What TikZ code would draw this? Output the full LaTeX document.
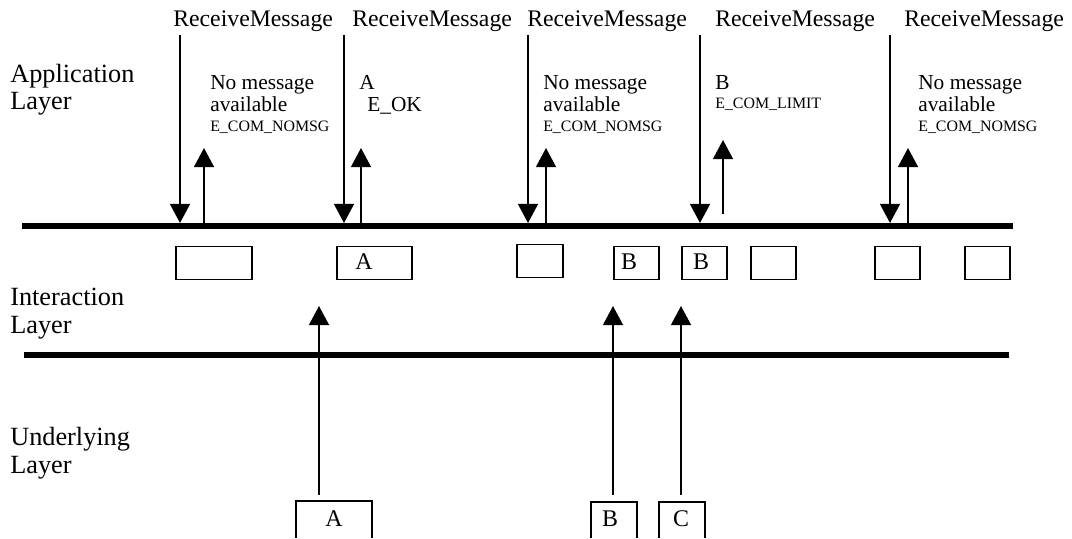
\documentclass[tikz,border=0pt]{standalone}
\usepackage{fontspec}
\setmainfont{Liberation Serif}
\usetikzlibrary{arrows.meta}

\begin{document}
\begin{tikzpicture}[
  bus/.style={line width=4.3pt},
  call/.style={line width=1.4pt, -{Triangle[length=0.48cm, width=0.5cm]}},
  ret/.style={call},
  slot/.style={draw, line width=1.4pt, minimum height=0.825cm, inner sep=0pt},
  frame/.style={line width=1.4pt},
  layer/.style={font=\fontsize{18.7}{19.9}\selectfont, align=left, anchor=base west, inner sep=0pt},
  rm/.style={font=\fontsize{16.9}{18}\selectfont, anchor=base west, inner sep=0pt},
  note/.style={font=\fontsize{15.2}{15.65}\selectfont, align=left, anchor=base west, inner sep=0pt},
  code/.style={font=\fontsize{11.3}{12}\selectfont, anchor=base west, inner sep=0pt},
  letter/.style={font=\fontsize{17}{18}\selectfont, inner sep=0pt},
]
  \useasboundingbox (0,0) rectangle (26.8,13.45);

  % layer names
  \node[layer] (app) at (0.25,10.7) {Application\\Layer};
  \node[layer] (inter) at (0.25,5.125) {Interaction\\Layer};
  \node[layer] (under) at (0.25,1.625) {Underlying\\Layer};

  % layer borders
  \coordinate (appL) at (0.55,7.8);
  \coordinate (appR) at (25.325,7.8);
  \coordinate (intL) at (0.6,4.575);
  \coordinate (intR) at (25.225,4.575);
  \draw[bus] (appL) -- (appR);
  \draw[bus] (intL) -- (intR);
  \coordinate (appT) at (0,7.875);

  % ReceiveMessage calls
  \node[rm] (rm1) at (4.325,12.775) {ReceiveMessage};
  \node[rm] (rm2) at (8.8,12.775) {ReceiveMessage};
  \node[rm] (rm3) at (13.175,12.775) {ReceiveMessage};
  \node[rm] (rm4) at (17.875,12.775) {ReceiveMessage};
  \node[rm] (rm5) at (22.6,12.775) {ReceiveMessage};

  \coordinate (c1) at (4.5,12.575);
  \coordinate (c2) at (8.6,12.575);
  \coordinate (c3) at (13.2,12.575);
  \coordinate (c4) at (17.5,12.575);
  \coordinate (c5) at (22.25,12.575);
  \draw[call] (c1) -- (c1 |- appT);
  \draw[call] (c2) -- (c2 |- appT);
  \draw[call] (c3) -- (c3 |- appT);
  \draw[call] (c4) -- (c4 |- appT);
  \draw[call] (c5) -- (c5 |- appT);

  % returns
  \coordinate (e1) at (5.1,9.75);
  \coordinate (e2) at (9.025,9.75);
  \coordinate (e3) at (13.65,9.75);
  \coordinate (e4) at (18.075,9.95);
  \coordinate (s4) at (18.075,8.1);
  \coordinate (e5) at (22.7,9.75);
  \draw[ret] (e1 |- appT) -- (e1);
  \draw[ret] (e2 |- appT) -- (e2);
  \draw[ret] (e3 |- appT) -- (e3);
  \draw[ret] (s4) -- (e4);
  \draw[ret] (e5 |- appT) -- (e5);

  \node[note] (n1) at (5.25,10.65) {No message\\available};
  \node[code] (k1) at (5.25,10.15) {E\_COM\_NOMSG};
  \node[note] (n2) at (8.975,10.65) {A\\\hspace{0.2cm}E\_OK};
  \node[note] (n3) at (13.575,10.65) {No message\\available};
  \node[code] (k3) at (13.575,10.15) {E\_COM\_NOMSG};
  \node[note] (n4) at (17.875,11.2) {B};
  \node[code] (k4) at (17.875,10.74) {E\_COM\_LIMIT};
  \node[note] (n5) at (22.95,10.65) {No message\\available};
  \node[code] (k5) at (22.95,10.15) {E\_COM\_NOMSG};

  % interaction layer buffers
  \node[slot, minimum width=1.9cm] (s1) at (5.35,6.875) {};
  \node[slot, minimum width=1.875cm] (s2) at (9.3625,6.875) {};
  \node[slot, minimum width=1.15cm] (s3) at (13.5,6.925) {};
  \node[slot, minimum width=1.125cm] (s4b) at (15.9125,6.875) {};
  \node[slot, minimum width=1.125cm] (s5b) at (17.6125,6.875) {};
  \node[slot, minimum width=1.125cm] (s6) at (19.3375,6.875) {};
  \node[slot, minimum width=1.125cm] (s7) at (22.4375,6.875) {};
  \node[slot, minimum width=1.125cm] (s8) at (24.6875,6.875) {};
  \node[letter] (s2t) at (9.1,6.9) {A};
  \node[letter] (s4t) at (15.725,6.9) {B};
  \node[letter] (s5t) at (17.525,6.9) {B};

  % underlying layer messages
  \draw[frame] (7.4,0) |- (9.3,0.925) -- (9.3,0);
  \draw[frame] (14.775,0) |- (15.925,0.9) -- (15.925,0);
  \draw[frame] (16.475,0) |- (17.625,0.9) -- (17.625,0);
  \node[letter] (ua) at (8.35,0.475) {A};
  \node[letter] (ub) at (15.25,0.475) {B};
  \node[letter] (uc) at (17.025,0.475) {C};

  \coordinate (fa) at (7.975,1.075);
  \coordinate (fb) at (15.325,1.075);
  \coordinate (fc) at (17.025,1.075);
  \coordinate (ta) at (7.975,5.8);
  \coordinate (tb) at (15.325,5.8);
  \coordinate (tc) at (17.025,5.8);
  \draw[call] (fa) -- (ta);
  \draw[call] (fb) -- (tb);
  \draw[call] (fc) -- (tc);
\end{tikzpicture}
\end{document}
